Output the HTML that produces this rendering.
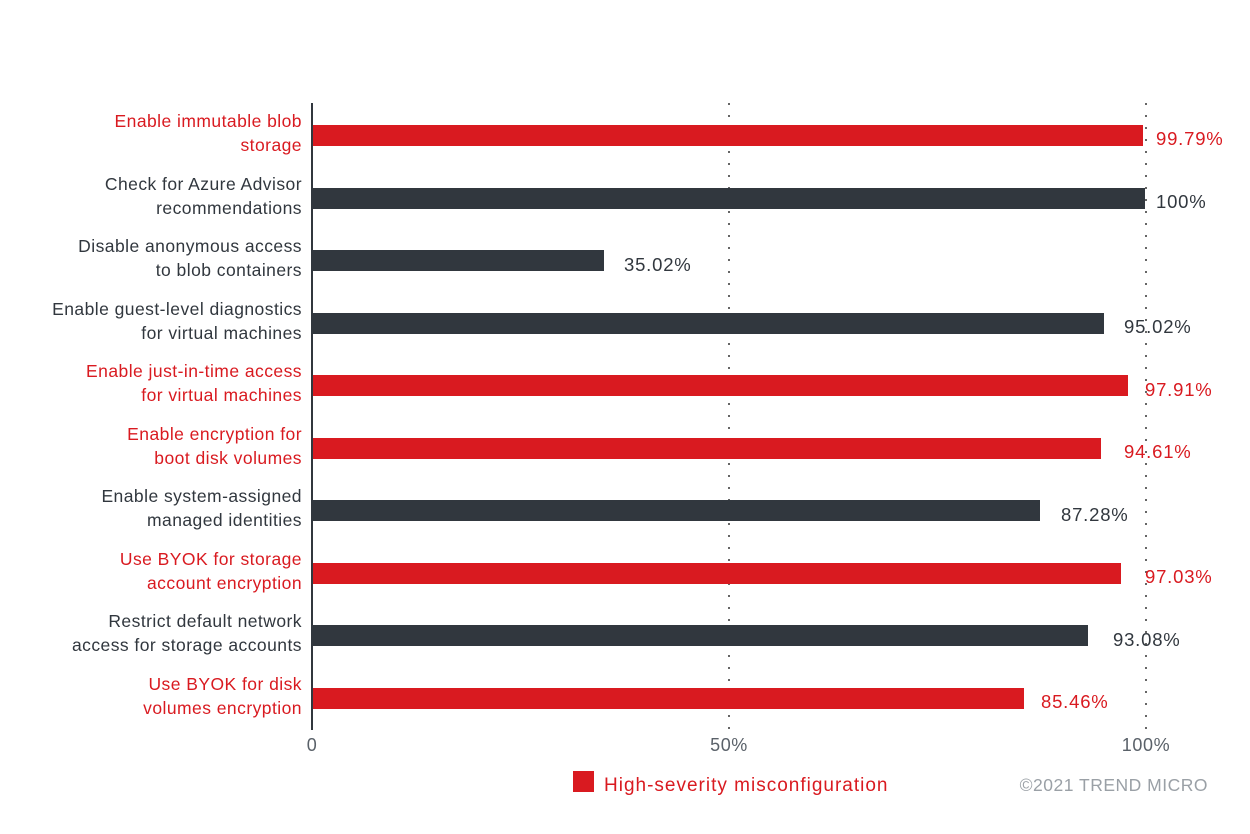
<!DOCTYPE html>
<html><head><meta charset="utf-8"><style>
body{margin:0;background:#fff}
svg{display:block;font-family:"Liberation Sans",sans-serif}
</style></head><body>
<svg width="1250" height="834" viewBox="0 0 1250 834">
<line x1="729" y1="103" x2="729" y2="730" stroke="#666" stroke-width="2" stroke-dasharray="2,10"/>
<line x1="1146" y1="103" x2="1146" y2="730" stroke="#666" stroke-width="2" stroke-dasharray="2,10"/>
<g font-size="17.5" letter-spacing="0.45" text-anchor="end">
<text x="302" y="127" fill="#d91a20">Enable immutable blob</text><text x="302" y="151" fill="#d91a20">storage</text>
<text x="302" y="190" fill="#31373e">Check for Azure Advisor</text><text x="302" y="214" fill="#31373e">recommendations</text>
<text x="302" y="252" fill="#31373e">Disable anonymous access</text><text x="302" y="276" fill="#31373e">to blob containers</text>
<text x="302" y="315" fill="#31373e">Enable guest-level diagnostics</text><text x="302" y="339" fill="#31373e">for virtual machines</text>
<text x="302" y="377" fill="#d91a20">Enable just-in-time access</text><text x="302" y="401" fill="#d91a20">for virtual machines</text>
<text x="302" y="440" fill="#d91a20">Enable encryption for</text><text x="302" y="464" fill="#d91a20">boot disk volumes</text>
<text x="302" y="502" fill="#31373e">Enable system-assigned</text><text x="302" y="526" fill="#31373e">managed identities</text>
<text x="302" y="565" fill="#d91a20">Use BYOK for storage</text><text x="302" y="589" fill="#d91a20">account encryption</text>
<text x="302" y="627" fill="#31373e">Restrict default network</text><text x="302" y="651" fill="#31373e">access for storage accounts</text>
<text x="302" y="690" fill="#d91a20">Use BYOK for disk</text><text x="302" y="714" fill="#d91a20">volumes encryption</text>
</g>
<g>
<rect x="312" y="125" width="831" height="21" fill="#d91a20"/>
<rect x="312" y="188" width="833" height="21" fill="#31373e"/>
<rect x="312" y="250" width="292" height="21" fill="#31373e"/>
<rect x="312" y="313" width="792" height="21" fill="#31373e"/>
<rect x="312" y="375" width="816" height="21" fill="#d91a20"/>
<rect x="312" y="438" width="789" height="21" fill="#d91a20"/>
<rect x="312" y="500" width="728" height="21" fill="#31373e"/>
<rect x="312" y="563" width="809" height="21" fill="#d91a20"/>
<rect x="312" y="625" width="776" height="21" fill="#31373e"/>
<rect x="312" y="688" width="712" height="21" fill="#d91a20"/>
</g>
<g font-size="18.5" letter-spacing="0.8">
<text x="1156" y="145" fill="#d91a20">99.79%</text>
<text x="1156" y="208" fill="#31373e">100%</text>
<text x="624" y="271" fill="#31373e">35.02%</text>
<text x="1124" y="333" fill="#31373e">95.02%</text>
<text x="1145" y="396" fill="#d91a20">97.91%</text>
<text x="1124" y="458" fill="#d91a20">94.61%</text>
<text x="1061" y="521" fill="#31373e">87.28%</text>
<text x="1145" y="583" fill="#d91a20">97.03%</text>
<text x="1113" y="646" fill="#31373e">93.08%</text>
<text x="1041" y="708" fill="#d91a20">85.46%</text>
</g>
<line x1="312" y1="103" x2="312" y2="730" stroke="#31373e" stroke-width="2"/>
<g font-size="18" letter-spacing="0.6" fill="#5a6169" text-anchor="middle">
<text x="312" y="751">0</text><text x="729" y="751">50%</text><text x="1146" y="751">100%</text>
</g>
<rect x="573" y="771" width="21" height="21" fill="#d91a20"/>
<text x="604" y="791" font-size="19" letter-spacing="1" fill="#d91a20">High-severity misconfiguration</text>
<text x="1208" y="791" font-size="17.5" letter-spacing="0.5" fill="#9aa0a6" text-anchor="end">©2021 TREND MICRO</text>
</svg>
</body></html>
